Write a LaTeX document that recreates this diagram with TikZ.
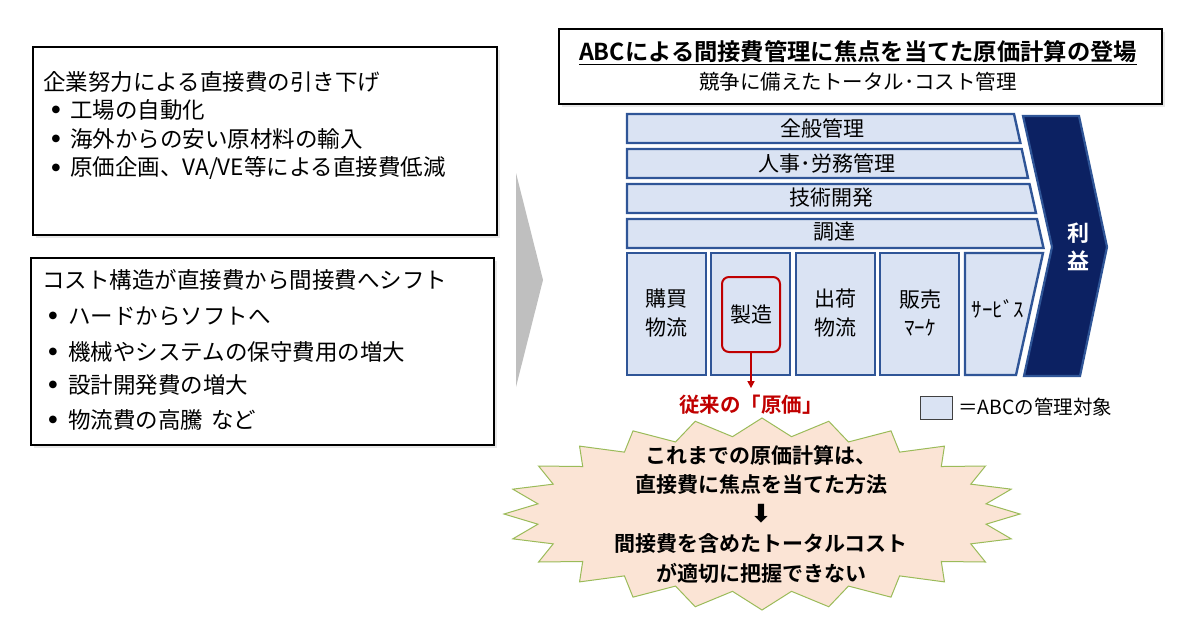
\documentclass[tikz,border=0pt]{standalone}
\usepackage{fontspec}
\setmainfont{Noto Sans CJK JP}[BoldFont={Noto Sans CJK JP Bold}]
\newfontfamily\symfont{DejaVu Sans}
\usetikzlibrary{arrows.meta,shadows}
\definecolor{barfill}{HTML}{DAE3F3}
\definecolor{barline}{HTML}{2F5597}
\definecolor{profit}{HTML}{0C2162}
\definecolor{genkared}{HTML}{C00000}
\definecolor{burstfill}{HTML}{FBE4D5}
\definecolor{burstline}{HTML}{9BBB59}

\begin{document}
\begin{tikzpicture}[x=1pt, y=-1pt,
    box/.style={draw=black, line width=1.1pt, fill=white,
      drop shadow={shadow xshift=3pt, shadow yshift=-3pt, opacity=0.18}},
    bar/.style={draw=barline, fill=barfill, line width=2.4pt, line join=miter},
    txt/.style={anchor=west, inner sep=0pt, font=\fontsize{22.5}{26}\selectfont},
    dot/.style={inner sep=0pt, font=\symfont\fontsize{10}{12}\selectfont},
    bartxt/.style={inner sep=0pt, align=center, font=\fontsize{21}{29}\selectfont},
    burst/.style={draw=burstline, fill=burstfill, line width=1pt, line join=miter},
    bursttxt/.style={inner sep=0pt, align=center, font=\bfseries\fontsize{21}{29.5}\selectfont}]
      \useasboundingbox (0,0) rectangle (1190,640);

      \draw[box] (33,47) rectangle (497,235);
      \node[txt] (effort) at (43,82) {企業努力による直接費の引き下げ};
      \node[dot] (d1) at (56,110) {●};
      \node[dot] (d2) at (56,139) {●};
      \node[dot] (d3) at (56,168) {●};
      \node[txt] (auto) at (70,110) {工場の自動化};
      \node[txt] (import) at (70,139) {海外からの安い原材料の輸入};
      \node[txt] (vave) at (70,168) {原価企画、VA/VE等による直接費低減};

      \draw[box] (31,258) rectangle (494,445);
      \node[txt] (shift) at (42,280) {コスト構造が直接費から間接費へシフト};
      \node[dot] (d4) at (53,316) {●};
      \node[dot] (d5) at (53,352) {●};
      \node[dot] (d6) at (53,385) {●};
      \node[dot] (d7) at (53,420) {●};
      \node[txt] (soft) at (68,316) {ハードからソフトへ};
      \node[txt] (maint) at (68,352) {機械やシステムの保守費用の増大};
      \node[txt] (design) at (68,385) {設計開発費の増大};
      \node[txt] (logi) at (68,420) {物流費の高騰\hspace{8pt}など};

      \fill[black!25] (516,173) -- (543,280) -- (516,387) -- cycle;

      \node[box, minimum width=603pt, minimum height=75pt] (titlebox) at (860.5,66.5) {};
      \node[inner sep=0pt, font=\bfseries\fontsize{23.3}{26}\selectfont] (titlea) at (858,53)
        {\underline{ABCによる間接費管理に焦点を当てた原価計算の登場}};
      \node[inner sep=0pt, font=\fontsize{20.5}{24}\selectfont] (titleb) at (858,82)
        {競争に備えたトータル･コスト管理};

      \draw[bar] (627,114) -- (1014,114) -- (1020.4,143) -- (627,143) -- cycle;
      \draw[bar] (627,149) -- (1021.7,149) -- (1028,178) -- (627,178) -- cycle;
      \draw[bar] (627,184) -- (1029.5,184) -- (1036,213) -- (627,213) -- cycle;
      \draw[bar] (627,219) -- (1037,219) -- (1043.5,248) -- (627,248) -- cycle;
      \draw[bar] (627,253) rectangle (706,375);
      \draw[bar] (711,253) rectangle (790,375);
      \draw[bar] (796,253) rectangle (875,375);
      \draw[bar] (880,253) rectangle (959,375);
      \draw[bar] (965,253) -- (1043,253) -- (1016,375) -- (965,375) -- cycle;
      \draw[draw=barline, fill=profit, line width=2.2pt, line join=miter]
        (1023,116) -- (1079,116) -- (1107,247) -- (1080,376) -- (1024,376) -- (1052,247) -- cycle;

      \node[bartxt] (general) at (822,128) {全般管理};
      \node[bartxt] (hr) at (827,163) {人事･労務管理};
      \node[bartxt] (tech) at (831,198) {技術開発};
      \node[bartxt] (procure) at (834,232) {調達};
      \node[bartxt] (inbound) at (666,313.5) {購買\\物流};
      \node[bartxt] (outbound) at (835,313.5) {出荷\\物流};
      \node[bartxt, font=\fontsize{21}{28}\selectfont] (sales) at (920,313) {販売\\ﾏｰｹ};
      \node[bartxt] (service) at (998,309) {ｻｰﾋﾞｽ};
      \node[bartxt, text=white, font=\bfseries\fontsize{22}{28}\selectfont] (rieki) at (1078,247) {利\\益};

      \node[draw=genkared, line width=2pt, rounded corners=7pt, minimum width=58pt,
        minimum height=75pt, inner sep=0pt, font=\fontsize{21}{25}\selectfont] (seizo) at (751,314.5) {製造};
      \node[inner sep=4pt, text=genkared, font=\bfseries\fontsize{20.5}{24}\selectfont] (genka) at (751,405)
        {従来の「原価」};
      \draw[-{Triangle[length=7pt,width=7pt]}, genkared, line width=1.5pt, shorten >=3pt] (seizo) -- (genka);

      \node[draw=black!75, fill=barfill, line width=1pt, minimum width=32pt, minimum height=23pt,
        inner sep=0pt] (legend) at (936,407.5) {};
      \node[txt, font=\fontsize{19.5}{24}\selectfont] (legendtxt) at (958,407) {＝ABCの管理対象};

      \draw[burst] plot[samples at={0,...,47}]
        ({762+(isodd(\x)?226:258)*cos(7.5*\x)}, {514-(isodd(\x)?78:96)*sin(7.5*\x)}) -- cycle;
      \node[bursttxt] (bursttxt) at (761,514)
        {これまでの原価計算は、\\直接費に焦点を当てた方法\\{\symfont\fontsize{25}{29.5}\selectfont ⬇}\\間接費を含めたトータルコスト\\が適切に把握できない};

   \end{tikzpicture}
\end{document}
